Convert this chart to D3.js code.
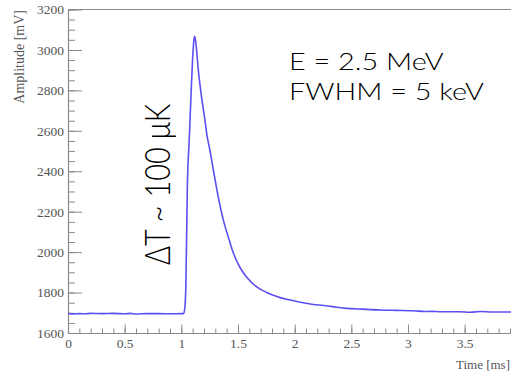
<!DOCTYPE html>
<html>
<head>
<meta charset="utf-8">
<script src="https://cdn.jsdelivr.net/npm/d3@7"></script>
<style>
  body { margin: 0; background: #fff; overflow: hidden; }
  svg { display: block; }
</style>
</head>
<body>
<svg width="511" height="374"></svg>
<script>
// pulse (time in ms, amplitude in mV)
const times = [0, 0.05, 0.1, 0.15, 0.2, 0.3, 0.4, 0.5, 0.55, 0.6, 0.7, 0.8, 0.9, 1.0, 1.02,
  1.03, 1.04, 1.053, 1.07, 1.083, 1.099, 1.112, 1.118, 1.127, 1.15, 1.18, 1.209, 1.224, 1.25,
  1.283, 1.32, 1.371, 1.42, 1.459, 1.518, 1.577, 1.665, 1.754, 1.812, 1.871, 1.96, 2.05, 2.165,
  2.253, 2.35, 2.46, 2.6, 2.754, 2.9, 3.05, 3.15, 3.2, 3.3, 3.45, 3.55, 3.64, 3.75, 3.9, 4.0];
const amplitudes = [1697, 1694, 1696, 1695, 1697, 1696, 1697, 1695, 1697, 1694, 1696, 1696, 1695, 1696, 1697,
  1720, 1830, 2320, 2560, 2740, 2950, 3055, 3068, 3040, 2900, 2760, 2650, 2586, 2510,
  2405, 2290, 2158, 2065, 1996, 1924, 1876, 1828, 1800, 1787, 1775, 1763, 1752, 1741,
  1736, 1729, 1722, 1718, 1714, 1712, 1710, 1706, 1707, 1705, 1705, 1703, 1706, 1704, 1704, 1703];

const xMajor = [0, 0.5, 1, 1.5, 2, 2.5, 3, 3.5];
const yMajor = [1600, 1800, 2000, 2200, 2400, 2600, 2800, 3000, 3200];

const svg = d3.select("svg");
const plotLeft = 68, plotTop = 9.5, plotBottom = 333;
const plotRight = 521.3;

const x = d3.scaleLinear().domain([0, 4]).range([plotLeft, plotRight]);
const y = d3.scaleLinear().domain([1600, 3200]).range([plotBottom, plotTop]);

const axisColor = "#8a8a8a";
const labelColor = "#555";
const serif = "'Liberation Serif', 'Times New Roman', serif";

// frame top
svg.append("line")
    .attr("x1", plotLeft).attr("x2", 511)
    .attr("y1", plotTop).attr("y2", plotTop)
    .attr("stroke", axisColor).attr("stroke-width", 1.2);

// minor ticks x
const gxMinor = svg.append("g")
    .attr("transform", `translate(0,${plotBottom})`)
    .call(d3.axisBottom(x).tickValues(d3.range(0, 40).map(i => i / 10)).tickSize(-4.5).tickFormat(""));

// major ticks x
const gx = svg.append("g")
    .attr("transform", `translate(0,${plotBottom})`)
    .call(d3.axisBottom(x).tickValues(xMajor).tickSize(-8.5).tickSizeOuter(0).tickPadding(5)
        .tickFormat(d3.format("~g")));

// minor ticks y
const gyMinor = svg.append("g")
    .attr("transform", `translate(${plotLeft},0)`)
    .call(d3.axisLeft(y).tickValues(d3.range(1600, 3201, 50)).tickSize(-7).tickFormat(""));

// major ticks y
const gy = svg.append("g")
    .attr("transform", `translate(${plotLeft},0)`)
    .call(d3.axisLeft(y).tickValues(yMajor).tickSize(-14).tickSizeOuter(0).tickPadding(4)
        .tickFormat(d3.format("d")));

[gxMinor, gx, gyMinor, gy].forEach(g => {
    g.attr("font-family", serif).attr("font-size", 13.5);
    g.selectAll("path").attr("stroke", axisColor).attr("stroke-width", 1.2);
    g.selectAll("line").attr("stroke", axisColor);
    g.selectAll("text").attr("fill", labelColor);
});
gxMinor.select("path").remove();
gyMinor.select("path").remove();

// axis titles
svg.append("text")
    .attr("transform", `translate(24,10) rotate(-90)`)
    .attr("text-anchor", "end")
    .attr("fill", labelColor)
    .style("font-family", serif)
    .style("font-size", "14px")
    .text("Amplitude [mV]");

svg.append("text")
    .attr("x", 510).attr("y", 369)
    .attr("text-anchor", "end")
    .attr("fill", labelColor)
    .style("font-family", serif)
    .style("font-size", "13px")
    .text("Time [ms]");

// trace
const line = d3.line()
    .x((d, i) => x(times[i]))
    .y(d => y(d))
    .curve(d3.curveMonotoneX);
svg.append("path")
    .datum(amplitudes)
    .attr("d", line)
    .attr("fill", "none")
    .attr("stroke", "#5b4ff2")
    .attr("stroke-width", 1.6)
    .attr("stroke-linejoin", "round");

// annotations (the source picture is stretched sideways a little)
const annoFont = "Lato, 'Open Sans', sans-serif";
svg.append("text")
    .attr("transform", "translate(289,70) scale(1.2,1)")
    .attr("fill", "#000")
    .style("font-family", annoFont)
    .style("font-weight", 300)
    .style("font-size", "24px")
    .text("E = 2.5 MeV");
svg.append("text")
    .attr("transform", "translate(289,100) scale(1.2,1)")
    .attr("fill", "#000")
    .style("font-family", annoFont)
    .style("font-weight", 300)
    .style("font-size", "24px")
    .text("FWHM = 5 keV");
svg.append("text")
    .attr("transform", "translate(170,265) scale(1.2,1) rotate(-90)")
    .attr("fill", "#000")
    .style("font-family", annoFont)
    .style("font-weight", 300)
    .style("font-size", "29px")
    .text("ΔT ~ 100 μK");
</script>
</body>
</html>
